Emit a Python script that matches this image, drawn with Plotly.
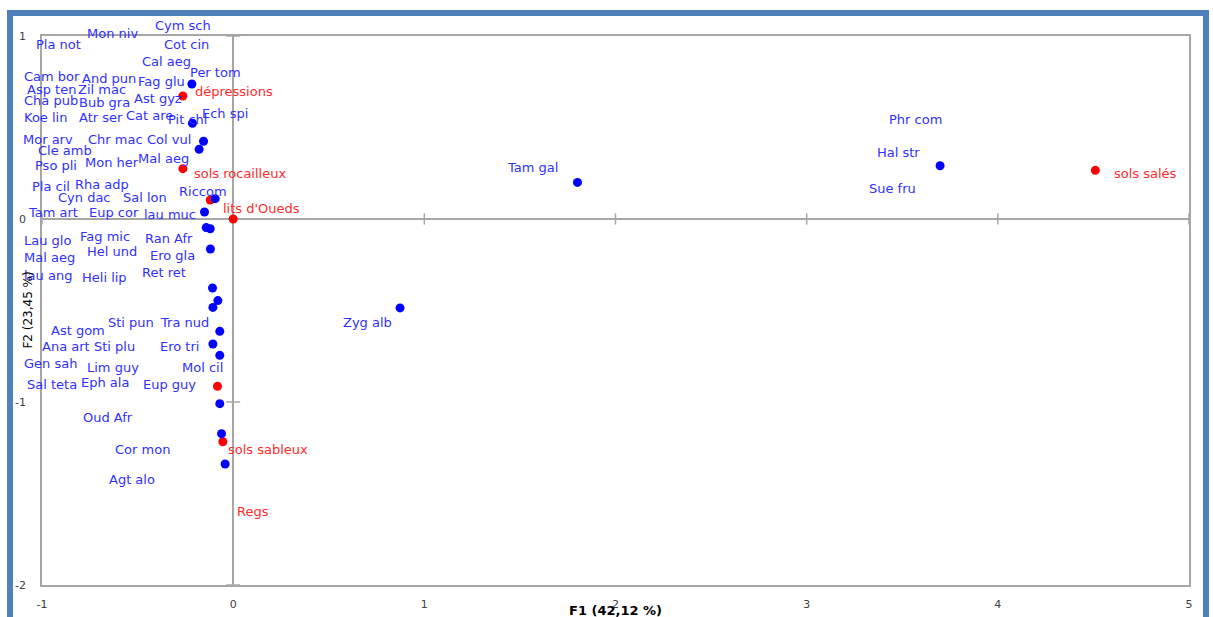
import plotly.graph_objects as go

# ---- data (in F1/F2 units) ----
blue_x = [-0.216, -0.213, -0.155, -0.178, -0.094, -0.150, -0.141, -0.120, -0.119,
          -0.108, -0.080, -0.106, -0.070, -0.106, -0.070, -0.070, -0.061, -0.042,
          1.801, 0.873, 3.698]
blue_y = [0.738, 0.523, 0.425, 0.381, 0.111, 0.038, -0.047, -0.053, -0.164,
          -0.377, -0.446, -0.483, -0.614, -0.683, -0.745, -1.009, -1.173, -1.339,
          0.200, -0.486, 0.291]

red_x = [-0.263, -0.263, -0.120, 0.000, -0.082, -0.054, 4.510]
red_y = [0.672, 0.275, 0.104, 0.000, -0.914, -1.217, 0.266]

species_labels = ["Cym sch", "Mon niv", "Pla not", "Cot cin", "Cal aeg", "Per tom",
                  "Cam bor", "And pun", "Fag glu", "Asp ten", "Zil mac", "Cha pub",
                  "Bub gra", "Ast gyz", "Koe lin", "Atr ser", "Cat are", "Pit chl",
                  "Ech spi", "Mor arv", "Chr mac", "Col vul", "Cle amb", "Pso pli",
                  "Mon her", "Mal aeg", "Pla cil", "Rha adp", "Cyn dac", "Sal lon",
                  "Riccom", "Tam art", "Eup cor", "lau muc", "Lau glo", "Fag mic",
                  "Ran Afr", "Mal aeg", "Hel und", "Ero gla", "lau ang", "Heli lip",
                  "Ret ret", "Sti pun", "Tra nud", "Ast gom", "Ana art", "Sti plu",
                  "Ero tri", "Gen sah", "Lim guy", "Mol cil", "Sal teta", "Eph ala",
                  "Eup guy", "Oud Afr", "Cor mon", "Agt alo", "Tam gal", "Zyg alb",
                  "Phr com", "Hal str", "Sue fru"]
species_x = [-0.413, -0.769, -1.036, -0.366, -0.481, -0.230,
             -1.098, -0.795, -0.502, -1.083, -0.816, -1.098,
             -0.811, -0.523, -1.098, -0.811, -0.565, -0.345,
             -0.167, -1.104, -0.764, -0.455, -1.025, -1.041,
             -0.779, -0.502, -1.056, -0.832, -0.921, -0.581,
             -0.288, -1.077, -0.758, -0.471, -1.098, -0.805,
             -0.465, -1.098, -0.769, -0.439, -1.098, -0.795,
             -0.481, -0.659, -0.387, -0.957, -1.004, -0.732,
             -0.387, -1.098, -0.769, -0.272, -1.083, -0.800,
             -0.476, -0.790, -0.622, -0.654, 1.428, 0.570,
             3.426, 3.363, 3.321]
species_y = [1.055, 1.016, 0.951, 0.951, 0.858, 0.803,
             0.781, 0.770, 0.754, 0.710, 0.710, 0.645,
             0.634, 0.656, 0.552, 0.552, 0.563, 0.546,
             0.574, 0.437, 0.437, 0.437, 0.377, 0.290,
             0.311, 0.328, 0.175, 0.186, 0.120, 0.120,
             0.153, 0.033, 0.038, 0.027, -0.115, -0.098,
             -0.109, -0.208, -0.180, -0.202, -0.311, -0.317,
             -0.290, -0.568, -0.563, -0.612, -0.699, -0.699,
             -0.699, -0.792, -0.809, -0.814, -0.907, -0.891,
             -0.907, -1.087, -1.257, -1.421, 0.279, -0.568,
             0.546, 0.366, 0.164]

habitat_labels = ["dépressions", "sols rocailleux", "lits d'Oueds", "sols sableux", "Regs", "sols salés"]
habitat_x = [-0.204, -0.209, -0.058, -0.031, 0.016, 4.603]
habitat_y = [0.699, 0.251, 0.055, -1.257, -1.596, 0.246]

x_range = [-1, 5]
y_range = [-2, 1]
x_ticks = [-1, 0, 1, 2, 3, 4, 5]
y_ticks = [-2, -1, 0, 1]
x_title = "F1 (42,12 %)"
y_title = "F2 (23,45 %)"

BLUE = "#0000FF"
RED = "#FF0000"
BLUE_TXT = "#3030FF"
RED_TXT = "#FF2B2B"
GRID = "#A6A6A6"
FONT = "DejaVu Sans"


def to_paper_x(v):
    return (v - x_range[0]) / (x_range[1] - x_range[0])


def to_paper_y(v):
    return (v - y_range[0]) / (y_range[1] - y_range[0])


fig = go.Figure()

# small tick marks crossing the zero lines
fig.add_trace(go.Scatter(x=x_ticks, y=[0] * len(x_ticks), mode="markers",
                         marker=dict(symbol="line-ns", size=8, line=dict(color=GRID, width=1.5)),
                         hoverinfo="skip", showlegend=False))
fig.add_trace(go.Scatter(x=[0] * len(y_ticks), y=y_ticks, mode="markers",
                         marker=dict(symbol="line-ew", size=10, line=dict(color=GRID, width=1.5)),
                         hoverinfo="skip", showlegend=False))

fig.add_trace(go.Scatter(x=red_x, y=red_y, mode="markers",
                         marker=dict(color=RED, size=9, line=dict(width=0)),
                         cliponaxis=False, showlegend=False))
fig.add_trace(go.Scatter(x=blue_x, y=blue_y, mode="markers",
                         marker=dict(color=BLUE, size=9, line=dict(width=0)),
                         cliponaxis=False, showlegend=False))

annotations = []
for t, x, y in zip(species_labels, species_x, species_y):
    annotations.append(dict(text=t, xref="paper", yref="paper",
                            x=to_paper_x(x), y=to_paper_y(y),
                            xanchor="left", yanchor="middle", showarrow=False,
                            borderpad=0,
                            font=dict(family=FONT, size=13, color=BLUE_TXT)))
for t, x, y in zip(habitat_labels, habitat_x, habitat_y):
    annotations.append(dict(text=t, xref="paper", yref="paper",
                            x=to_paper_x(x), y=to_paper_y(y),
                            xanchor="left", yanchor="middle", showarrow=False,
                            borderpad=0,
                            font=dict(family=FONT, size=13, color=RED_TXT)))

annotations.append(dict(text="<b>" + x_title + "</b>", xref="paper", yref="paper",
                        x=0.5, y=-0.047, xanchor="center", yanchor="middle",
                        showarrow=False, font=dict(family=FONT, size=13, color="#000000")))
annotations.append(dict(text=y_title, xref="paper", yref="paper", x=-0.013, y=0.5,
                        textangle=-90, xanchor="center", yanchor="middle",
                        showarrow=False, font=dict(family=FONT, size=12, color="#000000")))

fig.update_xaxes(range=x_range, tickvals=x_ticks, ticktext=[str(v) for v in x_ticks],
                 showgrid=False, zeroline=True, zerolinecolor=GRID, zerolinewidth=2,
                 showline=True, linecolor=GRID, linewidth=1.5, mirror=True,
                 ticks="", ticklabelstandoff=8, automargin=False,
                 tickfont=dict(family=FONT, size=11, color="#404040"))
fig.update_yaxes(range=y_range, tickvals=y_ticks, ticktext=[str(v) for v in y_ticks],
                 showgrid=False, zeroline=True, zerolinecolor=GRID, zerolinewidth=2,
                 showline=True, linecolor=GRID, linewidth=1.5, mirror=True,
                 ticks="", ticklabelstandoff=12, automargin=False,
                 tickfont=dict(family=FONT, size=11, color="#404040"))

fig.update_layout(
    width=1213, height=617, autosize=False,
    margin=dict(l=42, r=24, t=36, b=32),
    paper_bgcolor="white", plot_bgcolor="white",
    showlegend=False,
    annotations=annotations,
    shapes=[
        dict(type="rect", xref="paper", yref="paper", x0=-0.0279, x1=1.0148,
             y0=-0.09, y1=1.0419, line=dict(color="#4F81BD", width=6), layer="below"),
    ],
)

fig.write_html("out.html", config={"displayModeBar": False},
               post_script="document.body.style.margin='0';document.body.style.overflow='hidden';")
